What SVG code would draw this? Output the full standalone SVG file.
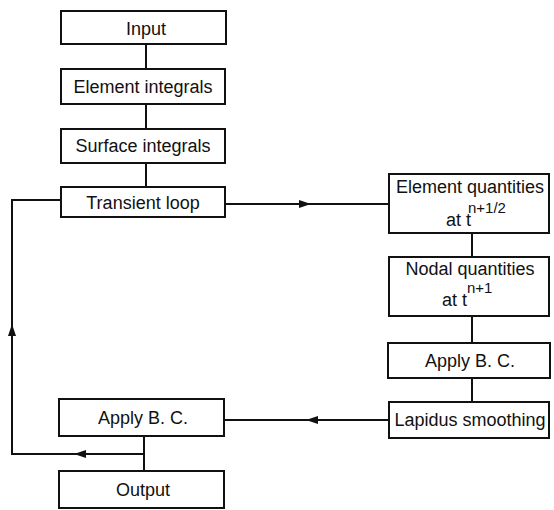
<svg xmlns="http://www.w3.org/2000/svg" width="554" height="510" viewBox="0 0 554 510">
<style>
.box{fill:#fff;stroke:#111;stroke-width:2}
.t{font-family:"Liberation Sans",Arial,sans-serif;font-size:18px;fill:#111;text-anchor:middle}
.l{font-family:"Liberation Sans",Arial,sans-serif;font-size:18px;fill:#111}
.s{font-size:15px}
.c{fill:none;stroke:#111;stroke-width:2;stroke-linecap:square}
</style>
<defs>
<marker id="ah" viewBox="0 0 12 8" refX="6" refY="4" markerWidth="12" markerHeight="8" markerUnits="userSpaceOnUse" orient="auto">
<path d="M0,0 L12,4 L0,8 z" fill="#111"/>
</marker>
</defs>
<rect width="554" height="510" fill="#fff"/>
<g id="connectors">
<path class="c" d="M146,44 V69"/>
<path class="c" d="M146,104 V129"/>
<path class="c" d="M146,163 V187"/>
<path class="c" d="M225,204 H305 H389" marker-mid="url(#ah)"/>
<path class="c" d="M472,233 V257"/>
<path class="c" d="M472,316 V343"/>
<path class="c" d="M472,378 V402"/>
<path class="c" d="M389,420 H312 H224" marker-mid="url(#ah)"/>
<path class="c" d="M144,436 V471"/>
<path class="c" d="M144,454 H80 H12" marker-mid="url(#ah)"/>
<path class="c" d="M12,454 V330 V200" marker-mid="url(#ah)"/>
<path class="c" d="M12,200 H61"/>
</g>
<g id="input"><rect class="box" x="61" y="11" width="165" height="33"/><text class="t" x="146" y="35">Input</text></g>
<g id="element-integrals"><rect class="box" x="61" y="69" width="164" height="35"/><text class="t" x="143" y="93">Element integrals</text></g>
<g id="surface-integrals"><rect class="box" x="61" y="129" width="164" height="34"/><text class="t" x="143" y="152">Surface integrals</text></g>
<g id="transient-loop"><rect class="box" x="61" y="187" width="164" height="30"/><text class="t" x="143" y="209">Transient loop</text></g>
<g id="element-quantities"><rect class="box" x="389" y="174" width="160" height="59"/><text class="t" x="470" y="193">Element quantities</text><text class="l" x="446" y="226">at t<tspan class="s" x="468" y="213">n+1/2</tspan></text></g>
<g id="nodal-quantities"><rect class="box" x="389" y="257" width="160" height="59"/><text class="t" x="470" y="275">Nodal quantities</text><text class="l" x="442" y="306">at t<tspan class="s" x="467" y="293">n+1</tspan></text></g>
<g id="apply-bc-right"><rect class="box" x="388" y="343" width="162" height="35"/><text class="t" x="470" y="367">Apply  B. C.</text></g>
<g id="lapidus-smoothing"><rect class="box" x="389" y="402" width="160" height="36"/><text class="t" x="470" y="426">Lapidus smoothing</text></g>
<g id="apply-bc-left"><rect class="box" x="59" y="399" width="165" height="37"/><text class="t" x="143" y="424">Apply  B. C.</text></g>
<g id="output"><rect class="box" x="59" y="471" width="165" height="37"/><text class="t" x="143" y="496">Output</text></g>
</svg>
